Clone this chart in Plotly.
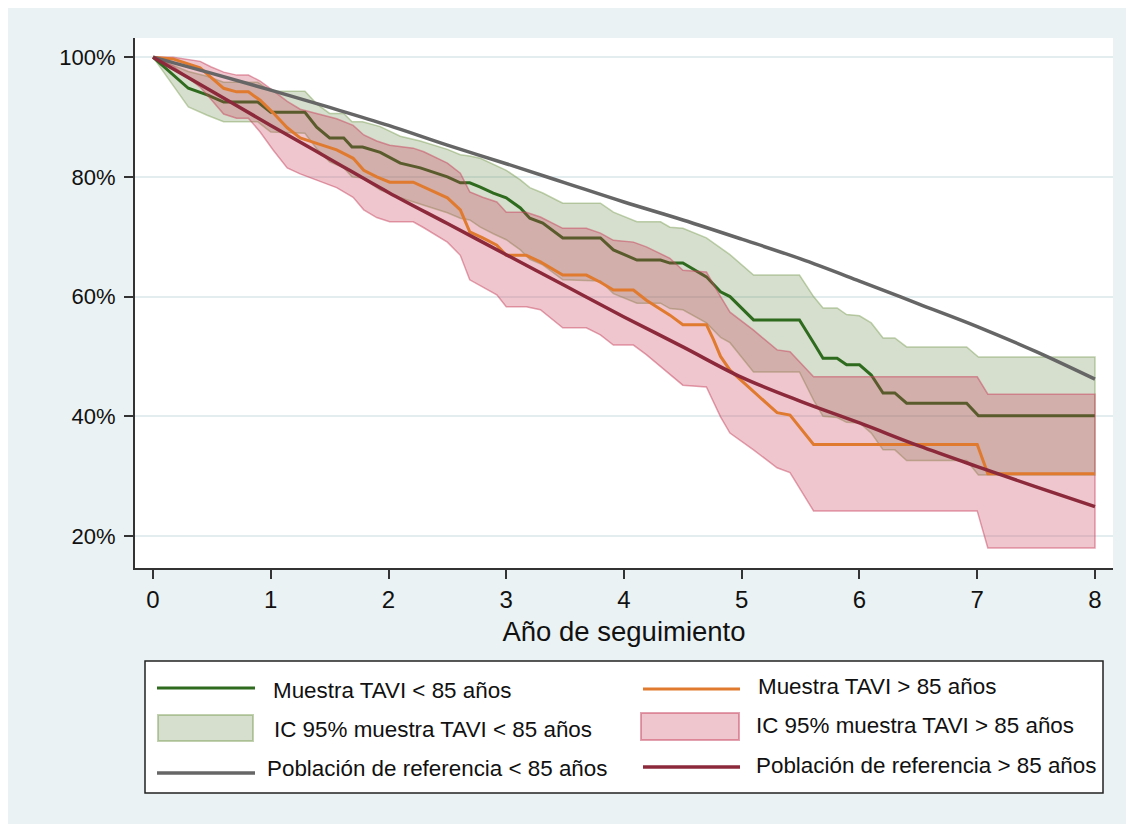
import plotly.graph_objects as go

# ---------------- data ----------------
# Reference population < 85
ref_lt85_x = [0, 0.5, 1, 1.5, 2, 2.5, 3, 3.5, 4, 4.5, 5, 5.5, 6, 6.5, 7, 7.5, 8]
ref_lt85_y = [100, 97.3, 94.5, 91.6, 88.6, 85.3, 82.2, 79.0, 75.8, 72.8, 69.6, 66.3, 62.6, 58.8, 55.0, 50.8, 46.2]

# Reference population > 85
ref_gt85_x = [0, 0.5, 1, 1.5, 2, 2.5, 3, 3.5, 4, 4.5, 5, 5.5, 6, 6.5, 7, 7.5, 8]
ref_gt85_y = [100, 94.3, 88.6, 83.0, 77.4, 72.2, 67.0, 61.8, 56.6, 51.6, 46.5, 42.5, 38.9, 35.1, 31.6, 28.2, 24.9]

# TAVI sample < 85 (Kaplan-Meier) with 95% CI
km_lt85_x = [0, 0.30, 0.46, 0.60, 0.89, 1.0, 1.29, 1.39, 1.5, 1.62, 1.69, 1.78, 1.93, 2.1, 2.27, 2.5,
             2.61, 2.69, 2.78, 2.89, 3.0, 3.12, 3.2, 3.31, 3.48, 3.8, 3.91, 4.11, 4.31, 4.39, 4.5, 4.7,
             4.82, 4.9, 5.1, 5.49, 5.61, 5.69, 5.81, 5.89, 6.0, 6.1, 6.2, 6.3, 6.4, 6.91, 7.01, 8]
km_lt85_y = [100, 94.8, 93.7, 92.5, 92.5, 90.8, 90.8, 88.3, 86.5, 86.5, 85.0, 85.0, 84.1, 82.3, 81.5, 80.0,
             79.0, 79.0, 78.3, 77.3, 76.5, 74.8, 73.1, 72.3, 69.8, 69.8, 67.8, 66.1, 66.1, 65.6, 65.6, 63.3,
             60.8, 60.0, 56.1, 56.1, 52.3, 49.7, 49.7, 48.6, 48.6, 46.9, 43.9, 43.9, 42.2, 42.2, 40.1, 40.1]
ci_lt85_up = [100, 97.6, 96.8, 95.8, 95.8, 94.3, 94.3, 92.2, 90.6, 90.6, 89.2, 89.2, 88.4, 86.8, 86.0, 84.6,
              83.7, 83.5, 83.1, 82.1, 81.1, 79.5, 78.2, 77.3, 75.6, 75.6, 74.1, 72.5, 72.5, 71.6, 71.4, 69.8,
              68.1, 67.0, 63.6, 63.6, 60.0, 58.1, 58.1, 57.0, 56.8, 55.6, 53.1, 53.1, 51.6, 51.6, 49.9, 49.9]
ci_lt85_lo = [100, 91.7, 90.3, 89.2, 89.2, 87.5, 87.3, 84.7, 82.5, 81.5, 80.0, 79.8, 77.8, 76.5, 75.5, 74.0,
              73.1, 72.8, 71.6, 70.5, 69.5, 67.8, 66.2, 65.3, 62.8, 62.6, 60.5, 58.9, 58.9, 58.0, 57.8, 55.6,
              53.2, 52.3, 47.4, 47.4, 42.7, 40.0, 39.8, 39.0, 38.9, 37.2, 34.4, 34.4, 32.6, 32.6, 30.2, 30.2]

# TAVI sample > 85 (Kaplan-Meier) with 95% CI
km_gt85_x = [0, 0.17, 0.4, 0.49, 0.6, 0.71, 0.81, 0.91, 1.02, 1.14, 1.25, 1.39, 1.56, 1.7, 1.79, 1.9,
             2.01, 2.21, 2.3, 2.5, 2.61, 2.69, 2.8, 2.92, 3.0, 3.17, 3.29, 3.48, 3.68, 3.8, 3.91, 4.08,
             4.19, 4.39, 4.5, 4.7, 4.76, 4.82, 4.9, 5.1, 5.3, 5.41, 5.61, 7.0, 7.09, 8]
km_gt85_y = [100, 99.7, 98.2, 96.7, 94.8, 94.2, 94.2, 92.8, 90.7, 88.2, 86.5, 85.6, 84.5, 83.1, 81.1, 80.0,
             79.1, 79.1, 78.3, 76.5, 74.5, 70.8, 69.8, 68.6, 66.9, 66.9, 65.8, 63.6, 63.6, 62.4, 61.1, 61.1,
             59.4, 56.9, 55.3, 55.3, 52.8, 50.0, 47.7, 44.1, 40.6, 40.2, 35.3, 35.3, 30.4, 30.4]
ci_gt85_up = [100, 100, 99.3, 98.4, 97.5, 97.0, 97.0, 96.0, 94.4, 92.6, 91.3, 90.6, 89.7, 88.6, 87.0, 86.0,
              85.3, 84.8, 84.2, 82.3, 80.6, 77.5, 76.6, 75.8, 74.1, 74.1, 73.3, 71.4, 71.4, 70.6, 69.4, 69.1,
              68.3, 66.4, 64.4, 64.1, 62.0, 60.0, 57.4, 54.4, 51.1, 50.8, 46.6, 46.6, 43.7, 43.7]
ci_gt85_lo = [100, 98.5, 95.0, 93.0, 90.5, 89.8, 89.8, 87.5, 84.5, 81.5, 80.5, 79.5, 78.2, 76.6, 74.5, 73.2,
              72.5, 72.5, 71.5, 69.1, 66.9, 62.8, 61.6, 60.3, 58.3, 58.3, 57.8, 54.8, 54.8, 53.6, 51.9, 51.9,
              50.3, 47.0, 45.2, 44.9, 42.3, 39.9, 37.2, 34.4, 31.4, 30.6, 24.2, 24.2, 18.0, 18.0]

y_ticks = [20, 40, 60, 80, 100]
y_tick_labels = ["20%", "40%", "60%", "80%", "100%"]
x_ticks = [0, 1, 2, 3, 4, 5, 6, 7, 8]

legend_labels = ["Muestra TAVI < 85 años", "IC 95% muestra TAVI < 85 años", "Población de referencia < 85 años",
                 "Muestra TAVI > 85 años", "IC 95% muestra TAVI > 85 años", "Población de referencia > 85 años"]

# ---------------- styles ----------------
C_GREEN = "#2f6b1f"
C_ORANGE = "#e07a2e"
C_GRAY = "#666666"
C_MAROON = "#8c2a3b"
F_GREEN = "rgba(120,150,90,0.30)"
E_GREEN = "rgba(120,155,80,0.45)"
F_RED = "rgba(200,50,80,0.28)"
E_RED = "rgba(200,70,95,0.50)"
BG = "#eaf2f3"
FONT = "Liberation Sans, Arial, Helvetica, sans-serif"

OFF = 8                      # page body margin
W, H = 1126, 816
L, R, T, B = 127, 21, 30, 256
PW, PH = W - L - R, H - T - B


def X(px):  # page pixel -> paper fraction
    return (px - OFF - L) / PW


def Y(py):
    return (H - B - (py - OFF)) / PH


fig = go.Figure()


def band(xs, up, lo, fill, edge):
    return go.Scatter(x=list(xs) + list(xs[::-1]), y=list(up) + list(lo[::-1]), mode="lines",
                      fill="toself", fillcolor=fill, line=dict(color=edge, width=1.5),
                      hoverinfo="skip", showlegend=False)


fig.add_trace(band(km_lt85_x, ci_lt85_up, ci_lt85_lo, F_GREEN, E_GREEN))
fig.add_trace(go.Scatter(x=km_lt85_x, y=km_lt85_y, mode="lines", line=dict(color=C_GREEN, width=3),
                         showlegend=False))
fig.add_trace(band(km_gt85_x, ci_gt85_up, ci_gt85_lo, F_RED, E_RED))
fig.add_trace(go.Scatter(x=km_gt85_x, y=km_gt85_y, mode="lines", line=dict(color=C_ORANGE, width=3),
                         showlegend=False))
fig.add_trace(go.Scatter(x=ref_lt85_x, y=ref_lt85_y, mode="lines",
                         line=dict(color=C_GRAY, width=3.5, shape="spline"), showlegend=False))
fig.add_trace(go.Scatter(x=ref_gt85_x, y=ref_gt85_y, mode="lines",
                         line=dict(color=C_MAROON, width=3.5, shape="spline"), showlegend=False))

shapes = []
# legend box
shapes.append(dict(type="rect", xref="paper", yref="paper", x0=X(145), x1=X(1103), y0=Y(793), y1=Y(661),
                   fillcolor="white", line=dict(color="#222222", width=1.5), layer="below"))
# legend symbols
sym = [
    ("line", 157, 255, 688, C_GREEN, 3),
    ("rect", 158, 253, (715, 741), (F_GREEN, E_GREEN), 2),
    ("line", 157, 255, 773, C_GRAY, 3.5),
    ("line", 643, 740, 689, C_ORANGE, 3),
    ("rect", 641, 739, (713, 740), (F_RED, E_RED), 2),
    ("line", 643, 740, 767, C_MAROON, 3.5),
]
for s in sym:
    if s[0] == "line":
        shapes.append(dict(type="line", xref="paper", yref="paper", x0=X(s[1]), x1=X(s[2]), y0=Y(s[3]), y1=Y(s[3]),
                           line=dict(color=s[4], width=s[5])))
    else:
        shapes.append(dict(type="rect", xref="paper", yref="paper", x0=X(s[1]), x1=X(s[2]), y0=Y(s[3][1]),
                           y1=Y(s[3][0]), fillcolor=s[4][0], line=dict(color=s[4][1], width=s[5])))

ann_pos = [(272, 690), (273, 729), (266, 768), (757, 686), (755, 725), (755, 765)]
annotations = []
for lab, (ax, ay) in zip(legend_labels, ann_pos):
    annotations.append(dict(text=lab, xref="paper", yref="paper", x=X(ax), y=Y(ay), xanchor="left",
                            yanchor="middle", showarrow=False, xshift=-1,
                            font=dict(size=22.4, color="#111111", family=FONT)))

fig.update_layout(
    width=W, height=H,
    margin=dict(l=L, r=R, t=T, b=B, pad=0),
    paper_bgcolor=BG, plot_bgcolor="white",
    font=dict(family=FONT, color="#111111"),
    showlegend=False,
    shapes=shapes, annotations=annotations,
    xaxis=dict(range=[-0.153, 8.153], tickvals=x_ticks, ticks="outside", ticklen=9, tickwidth=2,
               tickcolor="#333333", showline=True, linecolor="#333333", linewidth=2, showgrid=False,
               zeroline=False, tickfont=dict(size=24, family=FONT, color="#111111"),
               ticklabelstandoff=0,
               title=dict(text="Año de seguimiento", font=dict(size=27.5, family=FONT, color="#111111"),
                          standoff=10)),
    yaxis=dict(range=[14.66, 103.2], tickvals=y_ticks, ticktext=y_tick_labels, ticks="outside", ticklen=9,
               tickwidth=2, tickcolor="#333333", showline=True, linecolor="#333333", linewidth=2,
               showgrid=True, gridcolor="#e3edf0", gridwidth=2, zeroline=False,
               tickfont=dict(size=22, family=FONT, color="#111111"), ticklabelstandoff=4),
)

fig.write_html("out.html")
